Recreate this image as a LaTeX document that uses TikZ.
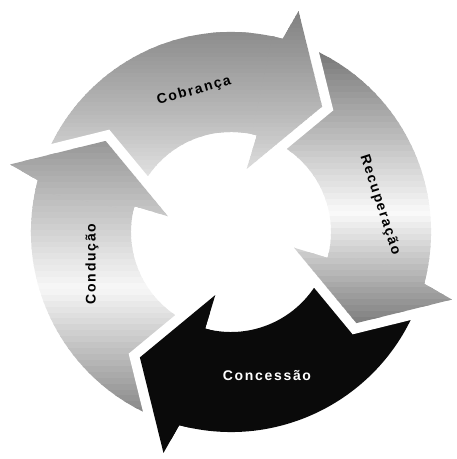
\documentclass[tikz,border=0pt]{standalone}
\usepackage{fontspec}
\setmainfont{Liberation Sans}
\newfontfamily\ringfont{Liberation Sans}[LetterSpace=12]

% ring arrow with its head at angle #1, its tail 90 degrees back
\newcommand{\ringarrow}[1]{(#1+90:200) arc[start angle=#1+90, end angle=#1, radius=200]
   -- (#1-2:231) -- (#1-21:155) -- (#1+1:65) -- (#1:100)
   arc[start angle=#1, end angle=#1+90, radius=100] -- cycle}
\newcommand{\ringhead}[1]{(#1+3:100) -- (#1+3:200) -- (#1:200) -- (#1-2:231) -- (#1-21:155)
   -- (#1+1:65) -- (#1:100) -- cycle}
\newcommand{\ringedge}[1]{(#1-2:231) -- (#1-21:155) -- (#1+1:65)}

% grey bands: y top, y middle, y bottom, then black! at each
\newcommand{\ringbands}[6]{%
   \foreach \i in {0,...,47}{
      \pgfmathsetmacro{\bandya}{#1+(#3-#1)*\i/48}
      \pgfmathsetmacro{\bandyb}{#1+(#3-#1)*(\i+1.3)/48}
      \pgfmathsetmacro{\bandp}{\bandya>#2 ? #4+(#5-#4)*(#1-\bandya)/(#1-#2) : #5+(#6-#5)*(#2-\bandya)/(#2-#3)}
      \fill[black!\bandp] (-231,\bandya) rectangle (225,\bandyb);
   }}

\begin{document}
\begin{tikzpicture}[x=0.75pt, y=0.75pt,
   gap/.style={draw=white, line width=15pt, line join=miter},
   txt/.style={font=\ringfont\bfseries\fontsize{10.5}{12}\selectfont}]

   \useasboundingbox (-231,-227) rectangle (225,232);

   % Arrows
      \begin{scope} \clip \ringarrow{75};   \ringbands{225}{122}{26}{50}{28}{4};    \end{scope}
      \begin{scope} \clip \ringarrow{-15};  \ringbands{193}{22}{-91}{56}{2}{52};    \end{scope}
      \fill[black!96] \ringarrow{-105};
      \begin{scope} \clip \ringarrow{165};  \ringbands{91}{-53}{-193}{40}{3}{52};   \end{scope}

   % Heads over the next tail
      \draw[gap] \ringedge{75};
      \begin{scope} \clip \ringhead{75};   \ringbands{225}{122}{26}{50}{28}{4};    \end{scope}
      \draw[gap] \ringedge{-15};
      \begin{scope} \clip \ringhead{-15};  \ringbands{193}{22}{-91}{56}{2}{52};    \end{scope}
      \draw[gap] \ringedge{-105};
      \fill[black!96] \ringhead{-105};
      \draw[gap] \ringedge{165};
      \begin{scope} \clip \ringhead{165};  \ringbands{91}{-53}{-193}{40}{3}{52};   \end{scope}

   % Labels
      \node[txt, rotate=16]  (cob)  at (-37,141)  {Cobrança};
      \node[txt, rotate=-72] (rec)  at (149,27)   {Recuperação};
      \node[txt, text=white] (con)  at (36,-144)  {Concessão};
      \node[txt, rotate=90]  (cond) at (-139,-32) {Condução};
\end{tikzpicture}
\end{document}
